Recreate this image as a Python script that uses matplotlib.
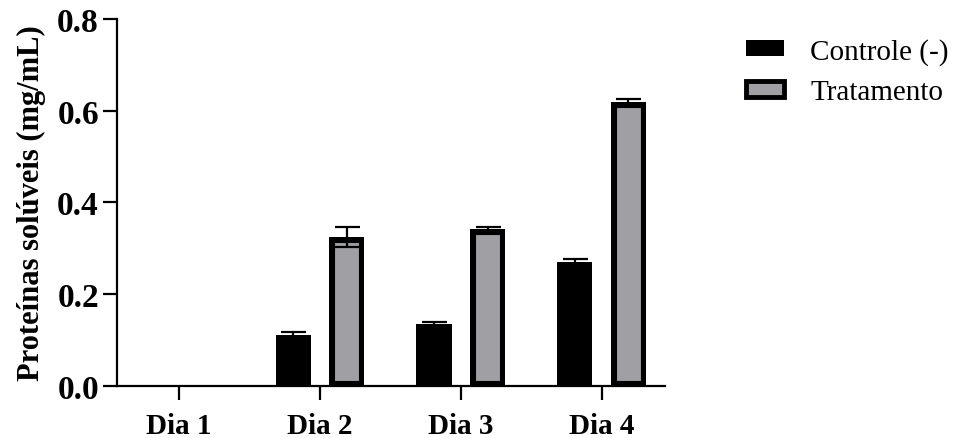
import numpy as np
import matplotlib
matplotlib.use("Agg")
import matplotlib.pyplot as plt
from matplotlib.patches import Patch
from matplotlib.font_manager import FontProperties, fontManager

days = ["Dia 1", "Dia 2", "Dia 3", "Dia 4"]
controle = [0.0, 0.111, 0.135, 0.271]
controle_err = [0.0, 0.006, 0.004, 0.006]
tratamento = [0.0, 0.325, 0.342, 0.620]
tratamento_err = [0.0, 0.021, 0.005, 0.005]
y_ticks = [0.0, 0.2, 0.4, 0.6, 0.8]

plt.rcParams["font.family"] = ["Liberation Serif", "DejaVu Serif"]

# regular-weight serif face for the legend entries
serif_regular = [f.fname for f in fontManager.ttflist
                 if f.name == "Liberation Serif" and f.style == "normal"
                 and f.weight in (400, "normal", "regular")]
if serif_regular:
    leg_font = FontProperties(fname=serif_regular[0], size=21)
else:
    leg_font = FontProperties(family="DejaVu Serif", size=19)

fig = plt.figure(figsize=(9.63, 4.39), dpi=100)
ax = fig.add_axes([0.1215, 0.1185, 0.5691, 0.8359])

x = np.arange(len(days))
w = 0.25
off = 0.19
gray = "#a09fa3"

ax.bar(x - off, controle, w, color="black", edgecolor="black", linewidth=0, zorder=2)
bt = ax.bar(x + off, tratamento, w, color=gray, edgecolor="black", linewidth=8, zorder=2)
# keep the border inside each bar outline
for p in bt:
    p.set_clip_path(p)


def draw_err(xpos, means, errs):
    means = np.asarray(means)
    errs = np.asarray(errs)
    keep = means > 0
    ax.errorbar(xpos[keep], means[keep], yerr=errs[keep], fmt="none", ecolor="black",
                elinewidth=1.6, capsize=9, capthick=1.6, zorder=3)


draw_err(x - off, controle, controle_err)
draw_err(x + off, tratamento, tratamento_err)

ax.set_xlim(-0.44, 3.45)
ax.set_ylim(0, 0.8)
ax.set_yticks(y_ticks)
ax.set_yticklabels([f"{v:.1f}" for v in y_ticks])
ax.set_xticks(x)
ax.set_xticklabels(days)

for s in ["top", "right"]:
    ax.spines[s].set_visible(False)
for s in ["left", "bottom"]:
    ax.spines[s].set_linewidth(1.6)

ax.tick_params(axis="both", length=10, width=1.6)
ax.tick_params(axis="x", labelsize=21, pad=9)
ax.tick_params(axis="y", labelsize=24, pad=3)
for lbl in ax.get_xticklabels() + ax.get_yticklabels():
    lbl.set_fontweight("bold")

ax.set_ylabel("Proteínas solúveis (mg/mL)", fontsize=22, fontweight="bold", labelpad=8)

handles = [Patch(facecolor="black", edgecolor="black", linewidth=0),
           Patch(facecolor=gray, edgecolor="black", linewidth=3.5)]
ax.legend(handles, ["Controle (-)", "Tratamento"], loc="upper left",
          bbox_to_anchor=(1.10, 1.02), frameon=False, prop=leg_font,
          handlelength=1.3, handleheight=0.45, handletextpad=0.9, labelspacing=0.5)

fig.savefig("out.png", dpi=100)
